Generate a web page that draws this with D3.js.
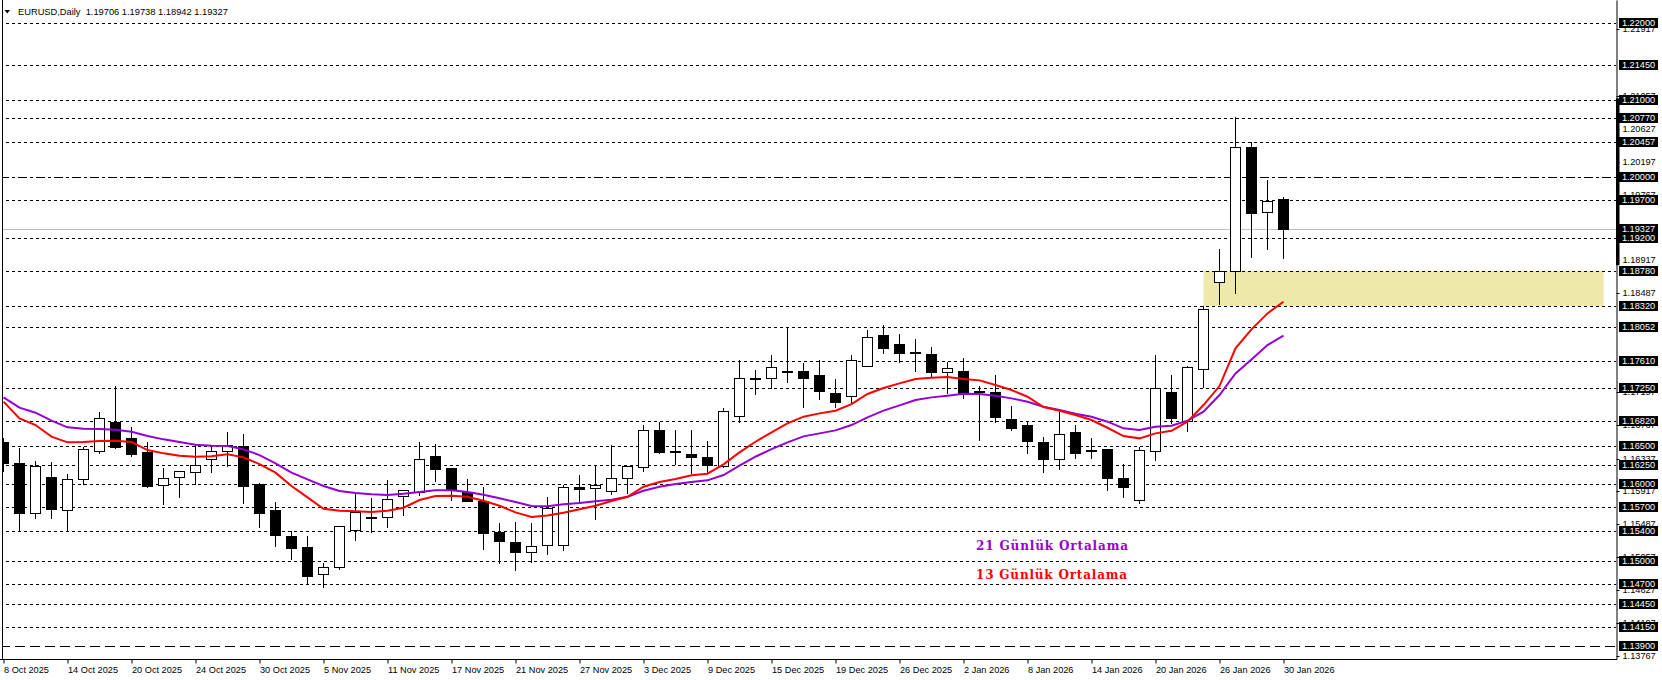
<!DOCTYPE html>
<html><head><meta charset="utf-8">
<script src="https://cdn.jsdelivr.net/npm/d3@7"></script>
<style>
html,body{margin:0;padding:0;background:#fff;overflow:hidden}
svg{display:block}
text{font-family:"Liberation Sans",Arial,sans-serif}
</style></head><body>
<svg id="chart" width="1662" height="680"></svg>
<script>
// ---------------- DATA ----------------
const symbol = "EURUSD,Daily";
const dates = [
"2025-10-08","2025-10-09","2025-10-10","2025-10-13","2025-10-14","2025-10-15","2025-10-16","2025-10-17","2025-10-20","2025-10-21",
"2025-10-22","2025-10-23","2025-10-24","2025-10-27","2025-10-28","2025-10-29","2025-10-30","2025-10-31","2025-11-03","2025-11-04",
"2025-11-05","2025-11-06","2025-11-07","2025-11-10","2025-11-11","2025-11-12","2025-11-13","2025-11-14","2025-11-17","2025-11-18",
"2025-11-19","2025-11-20","2025-11-21","2025-11-24","2025-11-25","2025-11-26","2025-11-27","2025-11-28","2025-12-01","2025-12-02",
"2025-12-03","2025-12-04","2025-12-05","2025-12-08","2025-12-09","2025-12-10","2025-12-11","2025-12-12","2025-12-15","2025-12-16",
"2025-12-17","2025-12-18","2025-12-19","2025-12-22","2025-12-23","2025-12-24","2025-12-26","2025-12-29","2025-12-30","2025-12-31",
"2026-01-02","2026-01-05","2026-01-06","2026-01-07","2026-01-08","2026-01-09","2026-01-12","2026-01-13","2026-01-14","2026-01-15",
"2026-01-16","2026-01-19","2026-01-20","2026-01-21","2026-01-22","2026-01-23","2026-01-26","2026-01-27","2026-01-28","2026-01-29",
"2026-01-30"];
const open = [
1.16552,1.16279,1.15624,1.16092,1.15663,1.16066,1.16430,1.16816,1.16599,1.16421,
1.15988,1.16092,1.16157,1.16326,1.16430,1.16500,1.16005,1.15668,1.15329,1.15186,
1.14831,1.14922,1.15411,1.15575,1.15572,1.15850,1.15906,1.16370,1.16209,1.15906,
1.15789,1.15381,1.15251,1.15117,1.15208,1.15212,1.15962,1.15949,1.15919,1.16079,
1.16222,1.16708,1.16430,1.16395,1.16361,1.16244,1.16894,1.17382,1.17379,1.17475,
1.17475,1.17423,1.17184,1.17154,1.17544,1.17943,1.17826,1.17720,1.17696,1.17457,
1.17475,1.17218,1.17197,1.16846,1.16773,1.16547,1.16326,1.16677,1.16442,1.16456,
1.16079,1.15797,1.16434,1.17206,1.16829,1.17501,1.18628,1.18775,1.20392,1.19538,
1.19706];
const high = [
1.16603,1.16478,1.16305,1.16287,1.16131,1.16491,1.16942,1.17280,1.16742,1.16547,
1.16209,1.16174,1.16513,1.16504,1.16677,1.16655,1.16020,1.15767,1.15399,1.15329,
1.14978,1.15455,1.15871,1.15819,1.16057,1.15923,1.16552,1.16521,1.16209,1.16071,
1.15971,1.15494,1.15516,1.15503,1.15841,1.15992,1.16122,1.16253,1.16513,1.16240,
1.16773,1.16816,1.16708,1.16708,1.16569,1.16989,1.17618,1.17488,1.17683,1.18038,
1.17583,1.17618,1.17371,1.17683,1.18008,1.18073,1.17956,1.17887,1.17783,1.17596,
1.17648,1.17280,1.17423,1.17019,1.16825,1.16621,1.16946,1.16773,1.16599,1.16456,
1.16265,1.16491,1.17683,1.17423,1.17544,1.18320,1.19057,1.20773,1.20457,1.19958,
1.19738];
const low = [
1.16180,1.15408,1.15559,1.15559,1.15408,1.16001,1.16413,1.16480,1.16370,1.15970,
1.15745,1.15841,1.16001,1.16166,1.16244,1.15763,1.15451,1.15204,1.15030,1.14710,
1.14671,1.14896,1.15281,1.15385,1.15450,1.15607,1.15863,1.16049,1.15798,1.15789,
1.15165,1.14974,1.14887,1.14996,1.15099,1.15150,1.15754,1.15550,1.15876,1.15893,
1.16179,1.16404,1.16266,1.16144,1.16166,1.16231,1.16807,1.17176,1.17250,1.17336,
1.17011,1.17111,1.17011,1.17076,1.17544,1.17713,1.17596,1.17479,1.17401,1.17184,
1.17119,1.16578,1.16816,1.16708,1.16413,1.16166,1.16196,1.16339,1.16339,1.15927,
1.15832,1.15754,1.16317,1.16794,1.16694,1.17271,1.18346,1.18493,1.18953,1.19057,
1.18942];
const close = [
1.16274,1.15633,1.16235,1.15685,1.16066,1.16456,1.16859,1.16491,1.16400,1.15979,
1.16079,1.16174,1.16248,1.16435,1.16508,1.15984,1.15633,1.15347,1.15178,1.14814,
1.14922,1.15455,1.15637,1.15572,1.15810,1.15923,1.16326,1.16196,1.15928,1.15789,
1.15373,1.15269,1.15126,1.15199,1.15698,1.15962,1.15936,1.15992,1.16079,1.16240,
1.16708,1.16426,1.16426,1.16361,1.16253,1.16955,1.17379,1.17379,1.17522,1.17457,
1.17388,1.17219,1.17076,1.17618,1.17913,1.17778,1.17705,1.17718,1.17466,1.17509,
1.17193,1.17215,1.16872,1.16738,1.16569,1.16330,1.16651,1.16413,1.16439,1.16079,
1.15971,1.16447,1.17249,1.16859,1.17531,1.18277,1.18779,1.20392,1.19525,1.19690,
1.19327];
// 13-day moving average (red)
const ma13 = [
1.17076,1.16859,1.16772,1.16621,1.16547,1.16551,1.16564,1.16569,1.16551,1.16447,
1.16404,1.16374,1.16361,1.16365,1.16391,1.16352,1.16265,1.16153,1.15979,1.15832,
1.15684,1.15658,1.15650,1.15641,1.15658,1.15697,1.15797,1.15849,1.15853,1.15840,
1.15788,1.15723,1.15637,1.15578,1.15595,1.15632,1.15676,1.15723,1.15784,1.15840,
1.15970,1.16031,1.16070,1.16118,1.16139,1.16261,1.16417,1.16555,1.16677,1.16794,
1.16881,1.16924,1.16959,1.17045,1.17176,1.17254,1.17314,1.17371,1.17388,1.17396,
1.17372,1.17353,1.17292,1.17227,1.17140,1.17006,1.16958,1.16902,1.16837,1.16737,
1.16629,1.16599,1.16664,1.16698,1.16816,1.17032,1.17279,1.17769,1.18016,1.18224,
1.18376];
// 21-day moving average (purple)
const ma21 = [
1.17132,1.16998,1.16933,1.16829,1.16742,1.16725,1.16720,1.16712,1.16686,1.16629,
1.16586,1.16551,1.16517,1.16504,1.16499,1.16456,1.16382,1.16274,1.16153,1.16066,
1.15979,1.15914,1.15888,1.15871,1.15862,1.15879,1.15901,1.15923,1.15923,1.15901,
1.15866,1.15819,1.15771,1.15719,1.15715,1.15741,1.15758,1.15780,1.15801,1.15840,
1.15918,1.15970,1.16005,1.16031,1.16053,1.16122,1.16243,1.16360,1.16460,1.16547,
1.16625,1.16664,1.16703,1.16772,1.16872,1.16959,1.17028,1.17098,1.17132,1.17154,
1.17178,1.17175,1.17154,1.17119,1.17076,1.17011,1.16967,1.16920,1.16881,1.16816,
1.16729,1.16707,1.16751,1.16764,1.16829,1.16946,1.17162,1.17444,1.17626,1.17812,
1.17934];
const dateTickLabels = ["8 Oct 2025","14 Oct 2025","20 Oct 2025","24 Oct 2025","30 Oct 2025","5 Nov 2025",
"11 Nov 2025","17 Nov 2025","21 Nov 2025","27 Nov 2025","3 Dec 2025","9 Dec 2025","15 Dec 2025","19 Dec 2025",
"26 Dec 2025","2 Jan 2026","8 Jan 2026","14 Jan 2026","20 Jan 2026","26 Jan 2026","30 Jan 2026"];
// price-scale labels that remain visible (the others are covered by line tags)
const priceScaleLabels = [1.21917,1.21057,1.20627,1.20197,1.19767,1.18917,1.18487,
1.17197,1.16767,1.16337,1.15917,1.15487,1.15057,1.14627,1.14197,1.13767];
const levels = [1.22000,1.21450,1.21000,1.20770,1.20457,1.20000,1.19700,1.19200,1.18780,1.18320,1.18052,
1.17610,1.17250,1.16820,1.16500,1.16250,1.16000,1.15700,1.15400,1.15000,1.14700,1.14450,1.14150,1.13900];
const dashDotLevel = 1.20000;
const longDashLevel = 1.13900;
const zoneLow = 1.18320, zoneHigh = 1.18780, zoneFrom = 75, zoneTo = 100;
const axisMarker = [1.18850, 1.21020];
const legend = ["21 Günlük Ortalama", "13 Günlük Ortalama"];

// ---------------- CHART ----------------
const plotRight = 1616, plotBottom = 659, plotLeft = 2.5;
const svg = d3.select("#chart");
const x = d3.scaleLinear().domain([0, 80]).range([3.5, 1283.5]);
const y = d3.scaleLinear().domain([1.13730, 1.22299]).range([plotBottom, 0]);
const py = v => Math.round(y(v)) + 0.5;
const fmt = d3.format(".5f");
const last = close.length - 1;

svg.append("defs").append("clipPath").attr("id", "plot")
  .append("rect").attr("x", 3).attr("y", 0).attr("width", plotRight - 3).attr("height", plotBottom);

const plot = svg.append("g").attr("clip-path", "url(#plot)");

// zone rectangle
plot.append("rect")
  .attr("x", x(zoneFrom)).attr("width", x(zoneTo) - x(zoneFrom))
  .attr("y", y(zoneHigh)).attr("height", y(zoneLow) - y(zoneHigh))
  .attr("fill", "#EEE8AA");

// horizontal levels
plot.selectAll("line.level").data(levels).join("line")
  .attr("class", "level")
  .attr("x1", 0).attr("x2", plotRight)
  .attr("y1", d => py(d)).attr("y2", d => py(d))
  .attr("stroke", "#000").attr("stroke-width", 1)
  .attr("stroke-dasharray", d => d === dashDotLevel ? "9,3,3,3" : (d === longDashLevel ? "10,5" : "3,3"));

// current price line
plot.append("line")
  .attr("x1", 0).attr("x2", plotRight)
  .attr("y1", py(close[last])).attr("y2", py(close[last]))
  .attr("stroke", "#C0C0C0").attr("stroke-width", 1);

// candles
const idx = d3.range(close.length);
const cg = plot.append("g");
cg.selectAll("line.wick").data(idx).join("line")
  .attr("class", "wick")
  .attr("x1", i => x(i)).attr("x2", i => x(i))
  .attr("y1", i => Math.round(y(high[i]))).attr("y2", i => Math.round(y(low[i])) + 1)
  .attr("stroke", "#000").attr("stroke-width", 1);
cg.selectAll("rect.body").data(idx).join("rect")
  .attr("class", "body")
  .attr("x", i => x(i) - 5)
  .attr("width", 10)
  .attr("y", i => py(Math.max(open[i], close[i])))
  .attr("height", i => Math.max(1, py(Math.min(open[i], close[i])) - py(Math.max(open[i], close[i]))))
  .attr("fill", i => close[i] >= open[i] ? "#fff" : "#000")
  .attr("stroke", "#000").attr("stroke-width", 1);

// moving averages
const line = d3.line().x((d, i) => x(i)).y(d => y(d));
plot.append("path").datum(ma21).attr("d", line)
  .attr("fill", "none").attr("stroke", "#9400D3").attr("stroke-width", 2);
plot.append("path").datum(ma13).attr("d", line)
  .attr("fill", "none").attr("stroke", "#FF0000").attr("stroke-width", 2);

// legend texts
svg.append("text").text(legend[0])
  .attr("x", 976).attr("y", 550)
  .attr("textLength", 152).attr("lengthAdjust", "spacing")
  .style("font-family", "'DejaVu Serif', 'Liberation Serif', serif")
  .style("font-size", "12px").style("font-weight", "bold")
  .attr("fill", "#9400D3");
svg.append("text").text(legend[1])
  .attr("x", 976).attr("y", 579)
  .attr("textLength", 151).attr("lengthAdjust", "spacing")
  .style("font-family", "'DejaVu Serif', 'Liberation Serif', serif")
  .style("font-size", "12px").style("font-weight", "bold")
  .attr("fill", "#FF0000");

// frame
svg.append("line").attr("x1", plotLeft).attr("x2", plotLeft).attr("y1", 0).attr("y2", plotBottom + 0.5)
  .attr("stroke", "#000");
svg.append("line").attr("x1", 0).attr("x2", plotRight + 1).attr("y1", plotBottom + 0.5).attr("y2", plotBottom + 0.5)
  .attr("stroke", "#000");

// right axis (price scale)
const ra = svg.append("g").attr("transform", `translate(${plotRight + 0.5},0)`)
  .call(d3.axisRight(y).tickValues(priceScaleLabels).tickSize(3).tickFormat(fmt).tickSizeOuter(0));
ra.select(".domain").attr("stroke", "#000");
ra.selectAll("text").attr("x", 6).style("font-family", "'Liberation Sans', Arial, sans-serif")
  .style("font-size", "9.2px").attr("fill", "#000");
ra.selectAll(".tick").attr("transform", d => `translate(0,${py(d)})`);

// marker bar on the price axis
svg.append("rect").attr("x", plotRight).attr("width", 3.5)
  .attr("y", y(axisMarker[1])).attr("height", y(axisMarker[0]) - y(axisMarker[1]))
  .attr("fill", "#000");

// black level labels
const tagVals = levels.concat([close[last]]);
const tags = svg.append("g").selectAll("g").data(tagVals).join("g")
  .attr("transform", d => `translate(1619,${py(d) - 0.5})`);
tags.append("rect").attr("x", 0).attr("y", -5).attr("width", 39).attr("height", 10).attr("fill", "#000");
tags.append("text").text(d => fmt(d))
  .attr("x", 19.5).attr("y", 3.4).attr("text-anchor", "middle")
  .style("font-size", "9.2px").attr("fill", "#fff");

// bottom axis (dates)
const ba = svg.append("g").attr("transform", `translate(0,${plotBottom + 0.5})`)
  .call(d3.axisBottom(x).tickValues(d3.range(0, 81, 4)).tickSize(4)
    .tickFormat((d, k) => dateTickLabels[k]));
ba.select(".domain").remove();
ba.selectAll("line").attr("stroke", "#000");
ba.selectAll("text").attr("text-anchor", "start").attr("x", 0).attr("y", 13).attr("dy", null)
  .style("font-family", "'Liberation Sans', Arial, sans-serif").style("font-size", "9.2px").attr("fill", "#000");

// header
svg.append("path").attr("d", "M4.5,10 L10,10 L7.25,13.5 Z").attr("fill", "#000");
svg.append("text")
  .text(`${symbol}  ${fmt(open[last])} ${fmt(high[last])} ${fmt(low[last])} ${fmt(close[last])}`)
  .attr("x", 18).attr("y", 15)
  .style("white-space", "pre")
  .style("font-size", "9.3px").attr("fill", "#000");
</script>
</body></html>
